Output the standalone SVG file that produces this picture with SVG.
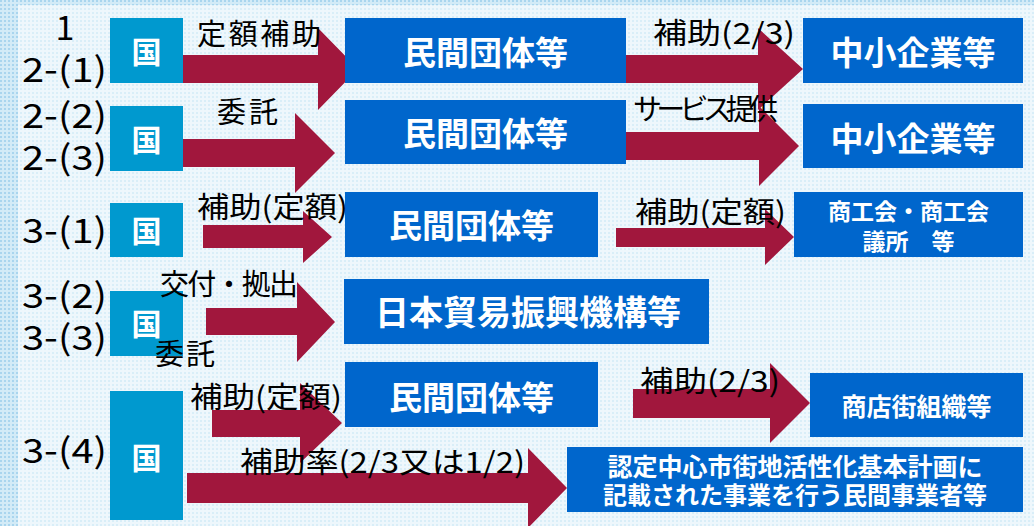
<svg xmlns="http://www.w3.org/2000/svg" width="1034" height="526" viewBox="0 0 1034 526">
<defs>
<pattern id="dots" width="4" height="4" patternUnits="userSpaceOnUse">
<rect width="4" height="4" fill="#eef7fc"/>
<rect x="0" y="0" width="2" height="2" fill="#d9eef8"/>
</pattern>
<pattern id="dotsDark" width="4" height="4" patternUnits="userSpaceOnUse">
<rect width="4" height="4" fill="#d3ebf7"/>
<rect x="0" y="0" width="2" height="2" fill="#a9d5ee"/>
</pattern>
<linearGradient id="fadeL" x1="0" y1="0" x2="1" y2="0">
<stop offset="0" stop-color="#fff" stop-opacity="0"/>
<stop offset="1" stop-color="#fff" stop-opacity="0.0"/>
</linearGradient>
</defs>
<style>
.arrow{fill:#a1173d}
.kuni{fill:#0099cf}
.org{fill:#0066cc}
.bt{font-family:"Noto Sans CJK JP","Noto Sans CJK SC",sans-serif;font-weight:bold;fill:#fff;text-anchor:middle}
.lb{font-family:"Noto Sans CJK JP","Noto Sans CJK SC",sans-serif;fill:#000;font-size:29px}
.num{font-family:"Noto Sans CJK JP","DejaVu Sans",sans-serif;fill:#000;font-size:34px}
</style>
<rect width="1034" height="526" fill="url(#dots)"/>
<rect x="0" y="0" width="18" height="526" fill="url(#dotsDark)"/>
<rect x="0" y="0" width="1034" height="5" fill="url(#dotsDark)"/>

<g id="connectors">
<polygon class="arrow" points="163,55 318,55 318,28 358,69 318,110 318,83 163,83"/>
<polygon class="arrow" points="598,55 758,55 758,28 803,69 758,110 758,83 598,83"/>
<polygon class="arrow" points="170,139 295,139 295,113 335,153 295,193 295,167 170,167"/>
<polygon class="arrow" points="598,132 759,132 759,106 799,146 759,186 759,160 598,160"/>
<polygon class="arrow" points="203,225 303,225 303,211 332,237 303,263 303,248 203,248"/>
<polygon class="arrow" points="616,228 765,228 765,209 794,237 765,265 765,247 616,247"/>
<polygon class="arrow" points="206,308 297,308 297,282 335,322 297,362 297,335 206,335"/>
<polygon class="arrow" points="212,410 300,410 300,383 342,423 300,463 300,437 212,437"/>
<polygon class="arrow" points="633,389 770,389 770,363 810,403 770,443 770,418 633,418"/>
<polygon class="arrow" points="187,473 528,473 528,448 567,488 528,528 528,503 187,503"/>
</g>

<g id="kuni1"><rect class="kuni" x="110" y="18" width="73" height="65"/><text class="bt" x="146.5" y="63" font-size="30">国</text></g>
<g id="kuni2"><rect class="kuni" x="110" y="106" width="73" height="65"/><text class="bt" x="146.5" y="151" font-size="30">国</text></g>
<g id="kuni3"><rect class="kuni" x="110" y="203" width="73" height="54"/><text class="bt" x="146.5" y="241.5" font-size="30">国</text></g>
<g id="kuni4"><rect class="kuni" x="110" y="291" width="73" height="65"/><text class="bt" x="146.5" y="334.5" font-size="30">国</text></g>
<g id="kuni5"><rect class="kuni" x="110" y="391" width="73" height="129"/><text class="bt" x="146.5" y="468.5" font-size="30">国</text></g>

<g id="minkan1"><rect class="org" x="345" y="18" width="281" height="65"/><text class="bt" x="485.5" y="64.5" font-size="33">民間団体等</text></g>
<g id="minkan2"><rect class="org" x="345" y="100" width="281" height="64"/><text class="bt" x="485.5" y="145.5" font-size="33">民間団体等</text></g>
<g id="minkan3"><rect class="org" x="345" y="192" width="253" height="65"/><text class="bt" x="471.5" y="237.5" font-size="33">民間団体等</text></g>
<g id="jetro"><rect class="org" x="344" y="279" width="365" height="65"/><text class="bt" x="528" y="325" font-size="34">日本貿易振興機構等</text></g>
<g id="minkan5"><rect class="org" x="345" y="362" width="253" height="65"/><text class="bt" x="471.5" y="409.5" font-size="33">民間団体等</text></g>

<g id="chusho1"><rect class="org" x="803" y="18" width="220" height="65"/><text class="bt" x="913" y="64.5" font-size="33">中小企業等</text></g>
<g id="chusho2"><rect class="org" x="803" y="104" width="220" height="64"/><text class="bt" x="913" y="150.5" font-size="33">中小企業等</text></g>
<g id="shokokai"><rect class="org" x="794" y="192" width="229" height="65"/><text class="bt" x="908.5" y="220" font-size="23">商工会・商工会</text><text class="bt" x="908.5" y="250" font-size="23">議所　等</text></g>
<g id="shotengai"><rect class="org" x="810" y="373" width="213" height="64"/><text class="bt" x="916.5" y="415.5" font-size="25">商店街組織等</text></g>
<g id="nintei"><rect class="org" x="567" y="447" width="456" height="65"/><text class="bt" x="795" y="475.5" font-size="25">認定中心市街地活性化基本計画に</text><text class="bt" x="795" y="503.5" font-size="24">記載された事業を行う民間事業者等</text></g>

<g id="labels">
<text class="num" x="65" y="40" text-anchor="middle">1</text>
<text class="num" x="22" y="82" textLength="85" lengthAdjust="spacingAndGlyphs">2-(1)</text>
<text class="num" x="22" y="128" textLength="85" lengthAdjust="spacingAndGlyphs">2-(2)</text>
<text class="num" x="22" y="170" textLength="85" lengthAdjust="spacingAndGlyphs">2-(3)</text>
<text class="num" x="22" y="243" textLength="85" lengthAdjust="spacingAndGlyphs">3-(1)</text>
<text class="num" x="22" y="308" textLength="85" lengthAdjust="spacingAndGlyphs">3-(2)</text>
<text class="num" x="22" y="350" textLength="85" lengthAdjust="spacingAndGlyphs">3-(3)</text>
<text class="num" x="22" y="463" textLength="85" lengthAdjust="spacingAndGlyphs">3-(4)</text>

<text class="lb" x="197" y="45" font-size="30" textLength="124">定額補助</text>
<text class="lb" x="653" y="44" textLength="142" lengthAdjust="spacingAndGlyphs">補助(2/3)</text>
<text class="lb" x="217" y="123" font-size="30" textLength="61">委託</text>
<text class="lb" x="633" y="120" font-size="24" textLength="145">サービス提供</text>
<text class="lb" x="197" y="218" textLength="151" lengthAdjust="spacingAndGlyphs">補助(定額)</text>
<text class="lb" x="635" y="223" textLength="151" lengthAdjust="spacingAndGlyphs">補助(定額)</text>
<text class="lb" x="160" y="295" font-size="28" textLength="138">交付・拠出</text>
<text class="lb" x="155" y="365" font-size="30" textLength="60">委託</text>
<text class="lb" x="190" y="408" textLength="152" lengthAdjust="spacingAndGlyphs">補助(定額)</text>
<text class="lb" x="640" y="392" textLength="140" lengthAdjust="spacingAndGlyphs">補助(2/3)</text>
<text class="lb" x="240" y="473" textLength="285" lengthAdjust="spacingAndGlyphs">補助率(2/3又は1/2)</text>
</g>
</svg>
